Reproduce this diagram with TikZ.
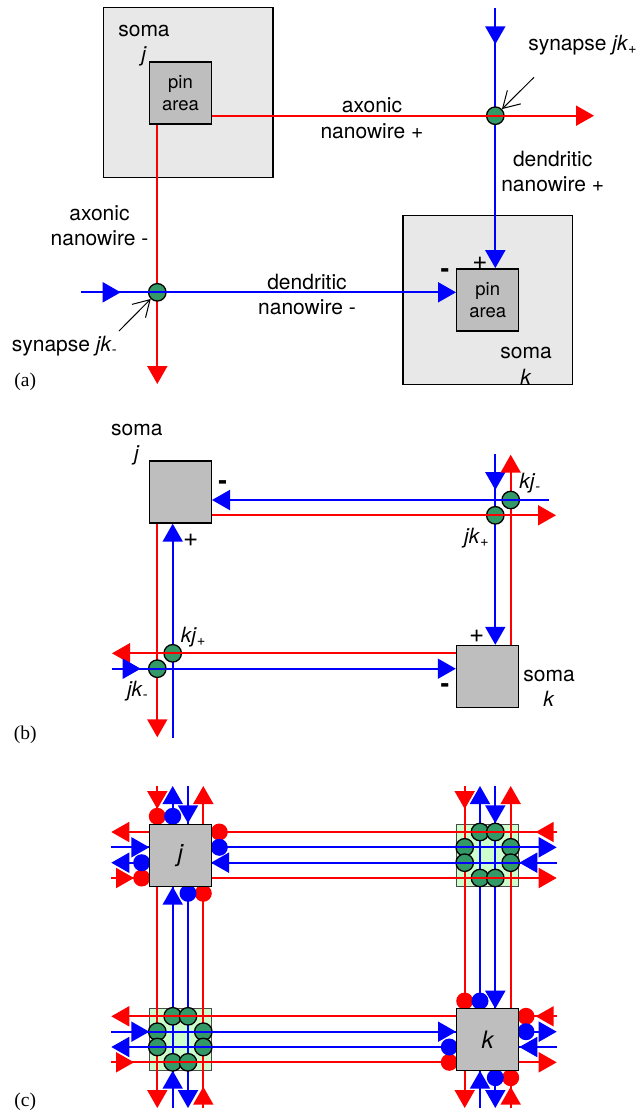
\documentclass[tikz,border=0pt]{standalone}
\usepackage{fontspec}
\setmainfont{TeX Gyre Heros}
\newfontfamily\panelfont{Liberation Serif}
\usepackage{tikz}
\usetikzlibrary{arrows.meta, decorations.markings}

\definecolor{somagray}{HTML}{E8E8E8}
\definecolor{pingray}{HTML}{BEBEBE}
\definecolor{syngreen}{HTML}{339966}
\definecolor{padgreen}{HTML}{CCFFCC}

\tikzset{
	soma/.style = {draw, fill = somagray, line width = 1.4pt, minimum size = 169.5pt, inner sep = 0pt},
	pin/.style = {draw, fill = pingray, line width = 1.4pt, minimum size = 62pt, inner sep = 0pt, align = center, font = \fontsize{18.5}{22}\selectfont},
	arrayarea/.style = {draw = black!70, fill = padgreen, line width = 1.1pt, minimum size = 62pt, inner sep = 0pt},
	axon/.style = {red, line width = 1.9pt},
	dendrite/.style = {blue, line width = 1.9pt},
	synapse/.style = {circle, draw = black, fill = syngreen, line width = 1.3pt, minimum size = 17.5pt, inner sep = 0pt},
	redpad/.style = {circle, fill = red, minimum size = 17pt, inner sep = 0pt},
	bluepad/.style = {circle, fill = blue, minimum size = 17pt, inner sep = 0pt},
	lbl/.style = {align = center, inner sep = 0pt, font = \fontsize{21}{25.5}\selectfont},
	sign/.style = {inner sep = 0pt, font = \fontsize{26}{28}\selectfont},
	panel/.style = {inner sep = 0pt, font = \panelfont\fontsize{19.5}{22}\selectfont},
	pointer/.style = {black, line width = 1pt, -{Straight Barb[length = 16pt, width = 19pt]}},
	tip at/.style = {postaction = {decorate, decoration = {markings, mark = at position #1 with {\arrow{>}}}}},
}

\begin{document}
\begin{tikzpicture}[x = 1pt, y = -1pt, >={Triangle[length = 18pt, width = 20pt]}]
	\useasboundingbox (0, 0) rectangle (639, 1112);

	\node[soma] (somaJa) at (188.2, 92.5) {};
	\node[soma] (somaKa) at (487.7, 300) {};
	\node[pin] (pinJ) at (180.5, 92.8) {pin\\area};
	\node[pin] (pinK) at (487.7, 299.8) {pin\\area};
	\coordinate (axonEndA) at (594, 115.7);
	\coordinate (axonEndB) at (157.3, 384);
	\coordinate (dendStartA) at (495.3, 8);
	\coordinate (dendStartB) at (80.7, 292.3);
	\coordinate (pointerA) at (534, 77.3);
	\coordinate (pointerB) at (119, 331);
	\draw[axon, ->] (pinJ.south -| axonEndB) -- (axonEndB);
	\draw[dendrite, ->, tip at = 36.3pt] (dendStartA) -- (pinK.north -| dendStartA);
	\node[synapse] (synJKplus) at (dendStartA |- axonEndA) {};
	\node[synapse] (synJKminus) at (axonEndB |- dendStartB) {};
	\draw[axon, ->] (pinJ.east |- axonEndA) -- (axonEndA);
	\draw[dendrite, ->, tip at = 40pt] (dendStartB) -- (pinK.west |- dendStartB);
	\draw[pointer] (pointerA) -- (synJKplus);
	\draw[pointer] (pointerB) -- (synJKminus);
	\node[lbl] (lblSomaJa) at (144, 45.5) {soma\\\textit{j}};
	\node[lbl] (lblSomaKa) at (526, 366) {soma\\\textit{k}};
	\node[lbl] (lblAxonPlus) at (372, 118) {axonic\\nanowire +};
	\node[lbl] (lblAxonMinus) at (99.5, 225.5) {axonic\\nanowire -};
	\node[lbl] (lblDendPlus) at (552.7, 171.7) {dendritic\\nanowire +};
	\node[lbl] (lblDendMinus) at (307, 294.5) {dendritic\\nanowire -};
	\node[lbl] (lblSynPlus) at (582.8, 45.3) {synapse \textit{jk}\textsubscript{+}};
	\node[lbl] (lblSynMinus) at (64.5, 346.5) {synapse \textit{jk}\textsubscript{-}};
	\node[sign] (lblPlusA) at (480, 263.3) {+};
	\node[sign] (lblMinusA) at (445, 273.3) {\textbf{-}};
	\node[panel] (panelA) at (25.3, 381.5) {(a)};

	\node[pin] (somaJb) at (180.3, 492) {};
	\node[pin] (somaKb) at (487.5, 676.5) {};
	\coordinate (axonEndC) at (157.3, 737.3);
	\coordinate (axonEndD) at (112, 653.3);
	\coordinate (axonEndE) at (556, 515.3);
	\coordinate (axonEndF) at (510.7, 454.7);
	\coordinate (dendStartC) at (172.7, 737.7);
	\coordinate (dendStartD) at (111.7, 668.7);
	\coordinate (dendStartE) at (549, 500);
	\coordinate (dendStartF) at (495.3, 454);
	\draw[axon, ->] (somaJb.south -| axonEndC) -- (axonEndC);
	\draw[dendrite, ->] (dendStartC) -- (somaJb.south -| dendStartC);
	\draw[dendrite, ->, tip at = 36pt] (dendStartF) -- (somaKb.north -| dendStartF);
	\draw[axon, ->] (somaKb.north -| axonEndF) -- (axonEndF);
	\node[synapse] (synKJplus) at (dendStartC |- axonEndD) {};
	\node[synapse] (synJKmin) at (axonEndC |- dendStartD) {};
	\node[synapse] (synJKpl) at (dendStartF |- axonEndE) {};
	\node[synapse] (synKJminus) at (axonEndF |- dendStartE) {};
	\draw[axon, ->] (somaKb.west |- axonEndD) -- (axonEndD);
	\draw[dendrite, ->, tip at = 29pt] (dendStartD) -- (somaKb.west |- dendStartD);
	\draw[dendrite, ->] (dendStartE) -- (somaJb.east |- dendStartE);
	\draw[axon, ->] (somaJb.east |- axonEndE) -- (axonEndE);
	\node[lbl] (lblSomaJb) at (136.8, 444.5) {soma\\\textit{j}};
	\node[lbl] (lblSomaKb) at (549, 688.5) {soma\\\textit{k}};
	\node[lbl] (lblKJplus) at (193.5, 637) {\textit{kj}\textsubscript{+}};
	\node[lbl] (lblJKminus) at (137.7, 690.7) {\textit{jk}\textsubscript{-}};
	\node[lbl] (lblKJminus) at (530, 482.7) {\textit{kj}\textsubscript{-}};
	\node[lbl] (lblJKplus) at (476.7, 538) {\textit{jk}\textsubscript{+}};
	\node[sign] (lblPlusB) at (190.7, 540.7) {+};
	\node[sign] (lblMinusB) at (222.7, 485) {\textbf{-}};
	\node[sign] (lblPlusC) at (476.7, 636.7) {+};
	\node[sign] (lblMinusC) at (445, 688.3) {\textbf{-}};
	\node[panel] (panelB) at (25.3, 735) {(b)};

	\node[arrayarea] (areaJK) at (487.7, 855.2) {};
	\node[arrayarea] (areaKJ) at (180.3, 1039.5) {};
	\foreach \nm/\xx in {p/157.3, q/172.7, r/188, s/203.3, t/464.7, u/480, v/495.3, w/510.7} {
		\coordinate (\nm-top) at (\xx, 786);
		\coordinate (\nm-bot) at (\xx, 1108);
	}
	\foreach \nm/\yy in {a/832, b/847.3, c/862.7, d/878, e/1016.3, f/1031.7, g/1047, h/1062.3} {
		\coordinate (\nm-left) at (111.3, \yy);
		\coordinate (\nm-right) at (556.7, \yy);
	}
	\draw[axon, ->, tip at = 23pt] (p-top) -- (p-bot);
	\draw[axon, ->, tip at = 23pt] (t-top) -- (t-bot);
	\draw[axon, ->, tip at = 21.3pt] (s-bot) -- (s-top);
	\draw[axon, ->, tip at = 21.3pt] (w-bot) -- (w-top);
	\draw[dendrite, ->, tip at = 37.3pt, tip at = 221.3pt] (q-bot) -- (q-top);
	\draw[dendrite, ->, tip at = 37.3pt] (u-bot) -- (u-top);
	\draw[dendrite, ->, tip at = 37.3pt] (r-top) -- (r-bot);
	\draw[dendrite, ->, tip at = 37.3pt, tip at = 222.7pt] (v-top) -- (v-bot);
	\foreach \vv/\hh in {u/a, v/a, u/d, v/d, t/b, t/c, w/b, w/c, q/e, r/e, q/h, r/h, p/f, p/g, s/f, s/g}
		\node[synapse] (syn\vv\hh) at (\vv-top |- \hh-left) {};
	\draw[axon, ->, tip at = 21pt] (a-right) -- (a-left);
	\draw[axon, ->, tip at = 21pt] (e-right) -- (e-left);
	\draw[axon, ->, tip at = 22.7pt] (d-left) -- (d-right);
	\draw[axon, ->, tip at = 22.7pt] (h-left) -- (h-right);
	\draw[dendrite, ->, tip at = 38pt] (b-left) -- (b-right);
	\draw[dendrite, ->, tip at = 38pt, tip at = 344.7pt] (f-left) -- (f-right);
	\draw[dendrite, ->, tip at = 37.4pt, tip at = 345.7pt] (c-right) -- (c-left);
	\draw[dendrite, ->, tip at = 37.4pt] (g-right) -- (g-left);
	\foreach \nm/\xx/\yy in {rpA/157.3/816.3, rpB/203.3/893.3, rpC/219.3/832, rpD/141.7/878, rpE/464.7/1001, rpF/510.7/1077.7, rpG/526/1016.3, rpH/449.3/1062.3}
		\node[redpad] (\nm) at (\xx, \yy) {};
	\foreach \nm/\xx/\yy in {bpA/172.7/816.3, bpB/188/893.3, bpC/219.3/847.3, bpD/141.7/862.7, bpE/480/1001, bpF/495.3/1077.7, bpG/526/1031.7, bpH/449.3/1047}
		\node[bluepad] (\nm) at (\xx, \yy) {};
	\node[pin, font = \fontsize{24}{26}\selectfont\itshape] (somaJc) at (180.3, 855.2) {j};
	\node[pin, font = \fontsize{24}{26}\selectfont\itshape] (somaKc) at (487.7, 1039.5) {k};
	\node[panel] (panelC) at (25.3, 1102) {(c)};
\end{tikzpicture}
\end{document}
